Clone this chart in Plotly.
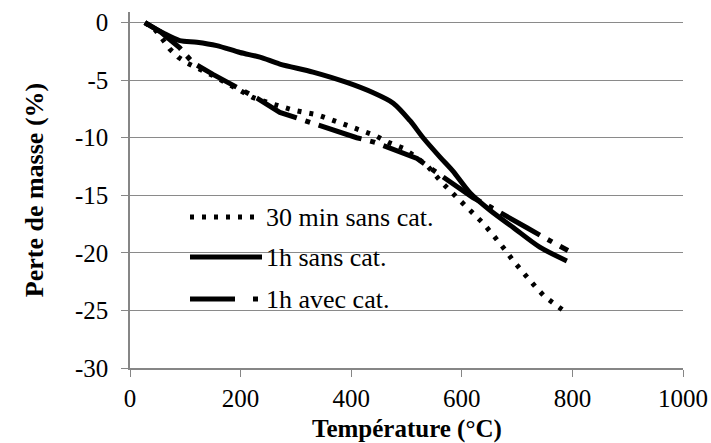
import plotly.graph_objects as go

# 30 min sans cat. (dotted)
t_30min = [27, 45, 58, 72, 87, 103, 150, 200, 222, 253, 271, 295, 316, 338, 362, 380, 401, 420,
           443, 467, 494, 515, 537, 564, 579, 593, 609, 624, 638, 654, 669, 681, 693, 707, 720,
           736, 750, 774, 792]
m_30min = [0, -0.6, -1.4, -2.3, -3.0, -3.5, -4.6, -5.9, -6.5, -7.0, -7.3, -7.6, -7.8, -8.0, -8.4,
           -8.7, -9.0, -9.4, -9.8, -10.4, -10.9, -11.6, -12.4, -13.9, -14.6, -15.3, -16.0, -16.7,
           -17.4, -18.3, -19.1, -19.9, -20.7, -21.5, -22.3, -23.1, -23.8, -24.7, -25.3]

# 1h sans cat. (solid)
t_1h = [27, 60, 90, 121, 157, 199, 235, 271, 331, 392, 440, 476, 506, 530, 561, 584, 615, 651,
        693, 741, 790]
m_1h = [0, -0.9, -1.56, -1.7, -2.0, -2.6, -3.0, -3.6, -4.3, -5.2, -6.1, -7.0, -8.5, -10.0, -11.7,
        -12.9, -14.8, -16.3, -17.8, -19.5, -20.7]

# 1h avec cat. (long dash - dot)
t_1hcat = [27, 55, 90, 114, 150, 193, 231, 271, 302, 338, 375, 410, 443, 480, 519, 548, 580, 620,
           651, 693, 717, 750, 792]
m_1hcat = [0, -0.8, -2.2, -3.5, -4.5, -5.6, -6.6, -7.8, -8.3, -8.9, -9.5, -10.0, -10.4, -11.1,
           -11.8, -12.8, -13.9, -15.2, -16.0, -17.2, -17.8, -18.7, -19.8]

series_names = ["30 min sans cat.", "1h sans cat.", "1h avec cat."]
x_ticks = [0, 200, 400, 600, 800, 1000]
x_ticktext = ["0", "200", "400", "600", "800", "1000"]
y_ticks = [-30, -25, -20, -15, -10, -5, 0]
y_ticktext = ["-30", "-25", "-20", "-15", "-10", "-5", "0"]
x_title = "Température (°C)"
y_title = "Perte de masse (%)"

FONT = "Liberation Serif"
dot_dash = "4px,8px"
ld_dash = "45px,9px,5px,9px"

fig = go.Figure()
fig.add_trace(go.Scatter(x=t_30min, y=m_30min, mode="lines", name=series_names[0],
                         line=dict(color="black", width=5, dash=dot_dash)))
fig.add_trace(go.Scatter(x=t_1h, y=m_1h, mode="lines", name=series_names[1],
                         line=dict(color="black", width=5, shape="spline", smoothing=0.8)))
fig.add_trace(go.Scatter(x=t_1hcat, y=m_1hcat, mode="lines", name=series_names[2],
                         line=dict(color="black", width=5, dash=ld_dash)))

# Legend drawn inside the plot (samples + text)
rows_y = [217, 257, 299]  # pixel rows
plot_top, plot_bottom = 12, 368
plot_left, plot_right = 130, 683


def py(ypx):
    return 1 - (ypx - plot_top) / (plot_bottom - plot_top)


def px(xpx):
    return (xpx - plot_left) / (plot_right - plot_left)


dashes = [dot_dash, "solid", "45px,18px,5px,100px"]
for i, name in enumerate(series_names):
    fig.add_shape(type="line", xref="paper", yref="paper",
                  x0=px(190), x1=px(262), y0=py(rows_y[i]), y1=py(rows_y[i]),
                  line=dict(color="black", width=5, dash=dashes[i]))
    fig.add_annotation(xref="paper", yref="paper", x=px(264), y=py(rows_y[i]),
                       text=name, showarrow=False, xanchor="left", yanchor="middle",
                       font=dict(family=FONT, size=26, color="black"))

# x-axis title
fig.add_annotation(xref="paper", yref="paper", x=0.5, y=py(429),
                   text="<b>" + x_title + "</b>", showarrow=False,
                   xanchor="center", yanchor="middle", borderpad=0,
                   font=dict(family=FONT, size=25, color="black"))

fig.update_layout(
    width=711, height=443,
    margin=dict(l=130, r=28, t=12, b=75),
    paper_bgcolor="white", plot_bgcolor="white",
    showlegend=False,
    font=dict(family=FONT, size=26, color="black"),
)
fig.update_xaxes(
    range=[0, 1000], tickvals=x_ticks, ticktext=x_ticktext, ticks="outside", ticklen=7,
    tickcolor="#868686", automargin=False,
    showline=True, linecolor="#868686", linewidth=1.5, showgrid=False, zeroline=False,
    tickfont=dict(family=FONT, size=25, color="black"), ticklabelstandoff=0,
)
fig.update_yaxes(
    range=[-30, 0.92], tickvals=y_ticks, ticktext=y_ticktext, ticks="outside", ticklen=7,
    tickcolor="#868686", automargin=False,
    showline=True, linecolor="#868686", linewidth=1.5, showgrid=True, gridcolor="#8a8a8a",
    gridwidth=1, zeroline=False,
    tickfont=dict(family=FONT, size=25, color="black"), ticklabelstandoff=8,
    title=dict(text="<b>" + y_title + "</b>", font=dict(family=FONT, size=26, color="black"),
               standoff=24),
)

fig.write_html("out.html", config={"displayModeBar": False},
               post_script="document.body.style.margin='0';")
